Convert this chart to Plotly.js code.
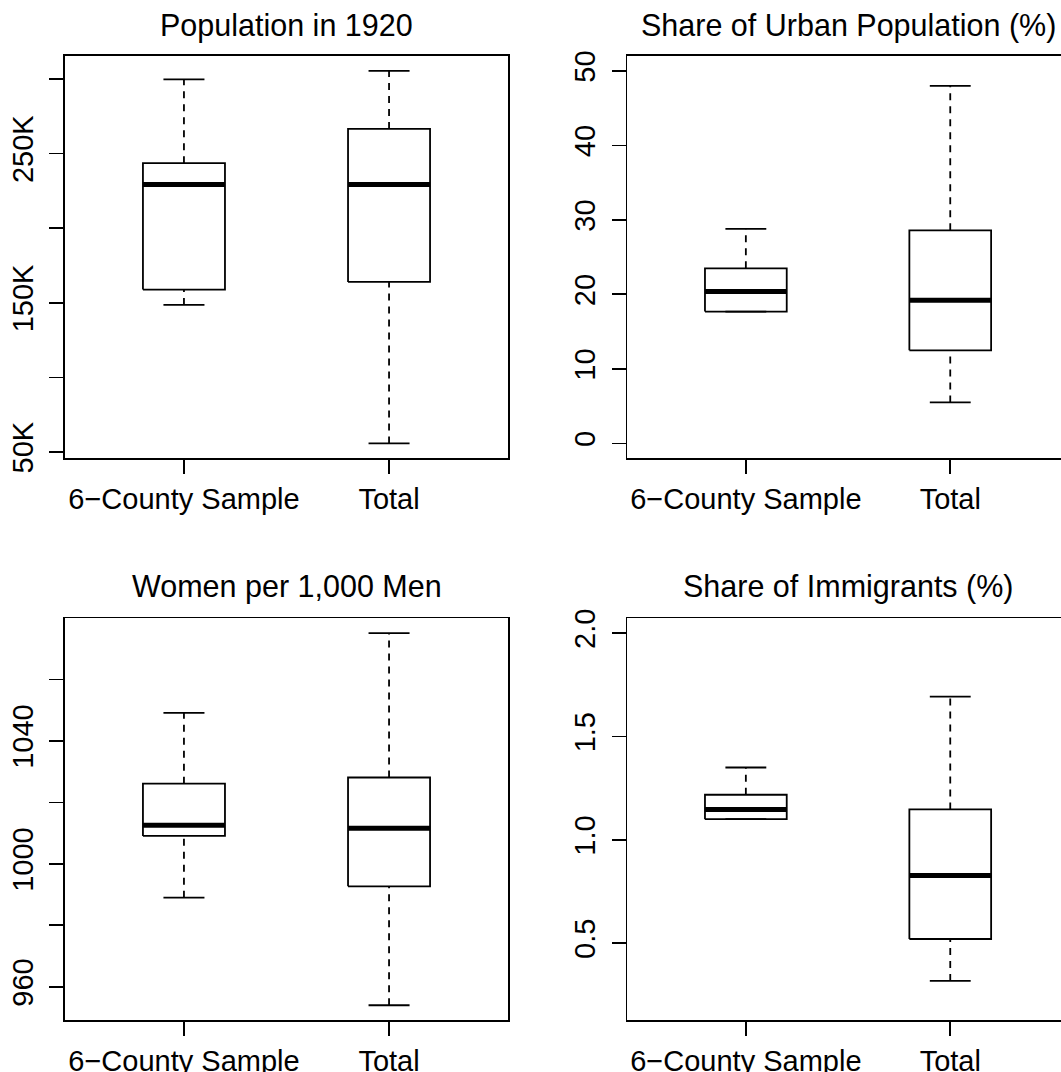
<!DOCTYPE html>
<html>
<head>
<meta charset="utf-8">
<script src="https://cdn.plot.ly/plotly-3.0.1.min.js"></script>
<style>
html, body { margin: 0; padding: 0; background: #ffffff; overflow: hidden; }
#chart { width: 1061px; height: 1072px; }
</style>
</head>
<body>
<div id="chart"></div>
<script>
// ---------- data ----------
const categories = ["6\u2212County Sample", "Total"];
const panelTitles = ["Population in 1920", "Share of Urban Population (%)", "Women per 1,000 Men", "Share of Immigrants (%)"];

// Population in 1920
const popLower  = [148600, 55800];
const popQ1     = [158900, 164000];
const popMedian = [229300, 229300];
const popQ3     = [243600, 266500];
const popUpper  = [299800, 305400];
const popTickVals = [50000, 100000, 150000, 200000, 250000, 300000];
const popTickText = ["50K", "", "150K", "", "250K", ""];

// Share of urban population (%)
const urbanLower  = [17.7, 5.5];
const urbanQ1     = [17.7, 12.5];
const urbanMedian = [20.4, 19.2];
const urbanQ3     = [23.5, 28.6];
const urbanUpper  = [28.8, 48.0];
const urbanTickVals = [0, 10, 20, 30, 40, 50];
const urbanTickText = ["0", "10", "20", "30", "40", "50"];

// Women per 1,000 men
const womenLower  = [989.0, 954.0];
const womenQ1     = [1009.1, 992.7];
const womenMedian = [1012.6, 1011.6];
const womenQ3     = [1026.1, 1028.1];
const womenUpper  = [1049.1, 1075.1];
const womenTickVals = [960, 980, 1000, 1020, 1040, 1060];
const womenTickText = ["960", "", "1000", "", "1040", ""];

// Share of immigrants (%)
const immLower  = [1.10, 0.317];
const immQ1     = [1.10, 0.52];
const immMedian = [1.147, 0.827];
const immQ3     = [1.218, 1.147];
const immUpper  = [1.35, 1.693];
const immTickVals = [0.5, 1.0, 1.5, 2.0];
const immTickText = ["0.5", "1.0", "1.5", "2.0"];

// ---------- styling / layout ----------
const W = 1061, H = 1072;
const FONT = "Liberation Sans, Arial, Helvetica, sans-serif";
const LW = 1.8, MEDLW = 5;
const HALF = 0.2, STAPLE = 0.1;

function boxTraces(lower, q1, med, q3, upper, xa, ya) {
  const pos = categories.map((c, i) => i + 1);
  const wx = [], wy = [], sx = [], sy = [], bx = [], by = [], mx = [], my = [];
  pos.forEach((p, i) => {
    wx.push(p, p, null, p, p, null);
    wy.push(q3[i], upper[i], null, lower[i], q1[i], null);
    sx.push(p - STAPLE, p + STAPLE, null, p - STAPLE, p + STAPLE, null);
    sy.push(upper[i], upper[i], null, lower[i], lower[i], null);
    bx.push(p - HALF, p + HALF, p + HALF, p - HALF, p - HALF, null);
    by.push(q1[i], q1[i], q3[i], q3[i], q1[i], null);
    mx.push(p - HALF, p + HALF, null);
    my.push(med[i], med[i], null);
  });
  const base = { type: "scatter", mode: "lines", xaxis: xa, yaxis: ya, hoverinfo: "skip", showlegend: false };
  return [
    Object.assign({}, base, { x: wx, y: wy, line: { color: "#000", width: LW, dash: "7px,6px" } }),
    Object.assign({}, base, { x: sx, y: sy, line: { color: "#000", width: LW } }),
    Object.assign({}, base, { x: bx, y: by, line: { color: "#000", width: LW } }),
    Object.assign({}, base, { x: mx, y: my, line: { color: "#000", width: MEDLW } })
  ];
}

const traces = []
  .concat(boxTraces(popLower, popQ1, popMedian, popQ3, popUpper, "x", "y"))
  .concat(boxTraces(urbanLower, urbanQ1, urbanMedian, urbanQ3, urbanUpper, "x2", "y2"))
  .concat(boxTraces(womenLower, womenQ1, womenMedian, womenQ3, womenUpper, "x3", "y3"))
  .concat(boxTraces(immLower, immQ1, immMedian, immQ3, immUpper, "x4", "y4"));

const tickFont = { family: FONT, size: 29, color: "#000" };

function xAxis(domain, range, anchor) {
  return {
    domain: domain, range: range, anchor: anchor,
    tickmode: "array", tickvals: categories.map((c, i) => i + 1), ticktext: categories,
    ticks: "outside", ticklen: 14, tickwidth: LW, tickcolor: "#000",
    showline: true, mirror: true, linewidth: LW, linecolor: "#000",
    showgrid: false, zeroline: false, tickfont: tickFont, ticklabelstandoff: 0,
    fixedrange: true
  };
}
function yAxis(domain, range, anchor, vals, text, mirror) {
  return {
    domain: domain, range: range, anchor: anchor,
    tickmode: "array", tickvals: vals, ticktext: text, tickangle: -90,
    ticks: "outside", ticklen: 14, tickwidth: LW, tickcolor: "#000",
    showline: true, mirror: mirror, linewidth: LW, linecolor: "#000",
    showgrid: false, zeroline: false, tickfont: tickFont, ticklabelstandoff: 5,
    fixedrange: true
  };
}

const xL = [65 / W, 508 / W];
const xR = [627.3 / W, 1];
const yT = [1 - 458.3 / H, 1 - 56 / H];
const yB = [1 - 1020 / H, 1 - 618.3 / H];
const rangeL = [0.42, 2.58];
const rangeR = [0.42, 0.42 + (1061 - 627.3) / ((1068.8 - 627.3) / 2.16)];

function title(text, cx, cy) {
  return {
    text: text, xref: "paper", yref: "paper", x: cx / W, y: 1 - cy / H,
    xanchor: "center", yanchor: "middle", showarrow: false,
    font: { family: FONT, size: 30.5, color: "#000" }
  };
}

const layout = {
  width: W, height: H,
  margin: { l: 0, r: 0, t: 0, b: 0 },
  paper_bgcolor: "#fff", plot_bgcolor: "#fff",
  showlegend: false,
  font: { family: FONT, color: "#000" },
  xaxis: xAxis(xL, rangeL, "y"),
  yaxis: yAxis(yT, [45800, 315400], "x", popTickVals, popTickText, true),
  xaxis2: xAxis(xR, rangeR, "y2"),
  yaxis2: yAxis(yT, [-2, 52], "x2", urbanTickVals, urbanTickText, false),
  xaxis3: xAxis(xL, rangeL, "y3"),
  yaxis3: yAxis(yB, [949.2, 1079.9], "x3", womenTickVals, womenTickText, true),
  xaxis4: xAxis(xR, rangeR, "y4"),
  yaxis4: yAxis(yB, [0.128, 2.072], "x4", immTickVals, immTickText, false),
  annotations: [
    title(panelTitles[0], 286.5, 26),
    title(panelTitles[1], 848, 26),
    title(panelTitles[2], 286.5, 586),
    title(panelTitles[3], 848, 586)
  ]
};

Plotly.newPlot("chart", traces, layout, { staticPlot: true, displayModeBar: false });
</script>
</body>
</html>
